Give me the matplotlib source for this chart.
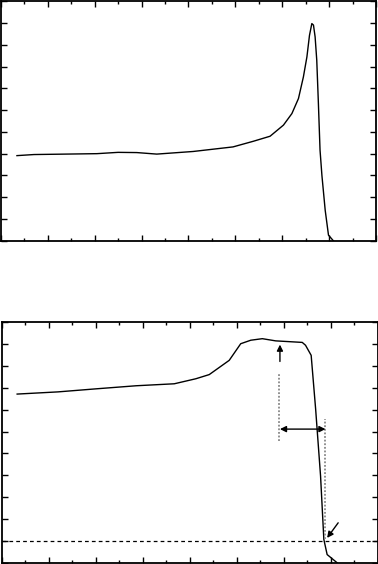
import numpy as np
import matplotlib
matplotlib.use("Agg")
import matplotlib.pyplot as plt
from matplotlib.ticker import MultipleLocator

#  Upper trace
x_top = [0.69, 1.42, 4.1, 5.0, 5.8, 6.65, 8.2, 9.9, 10.77, 11.48, 12.05, 12.41, 12.69,
         12.9, 13.05, 13.16, 13.26, 13.33, 13.4, 13.47, 13.54, 13.61, 13.69, 13.83,
         13.97, 14.18]
y_top = [3.91, 3.96, 4.0, 4.06, 4.05, 3.98, 4.1, 4.31, 4.57, 4.8, 5.31, 5.84, 6.53,
         7.52, 8.44, 9.43, 9.97, 9.9, 9.36, 8.29, 6.3, 4.16, 3.0, 1.4, 0.26, 0.0]

#  Lower trace
x_bot = [0.65, 2.39, 4.02, 5.72, 7.34, 8.26, 8.83, 9.68, 10.17, 10.6, 11.09, 11.66,
         12.79, 12.93, 13.17, 13.36, 13.57, 13.71, 13.85, 14.28]
y_bot = [7.71, 7.81, 7.95, 8.09, 8.18, 8.41, 8.6, 9.25, 10.01, 10.17, 10.24, 10.14,
         10.07, 9.94, 9.48, 7.03, 3.97, 1.07, 0.38, 0.0]

#  Annotation values (lower panel)
threshold = 1.0
x_peak_mark = 11.84
x_cross_mark = 13.78
y_span = 6.11


def style(ax):
    ax.set_xlim(0, 16)
    ax.set_ylim(0, 11)
    ax.xaxis.set_major_locator(MultipleLocator(2))
    ax.xaxis.set_minor_locator(MultipleLocator(1))
    ax.yaxis.set_major_locator(MultipleLocator(1))
    ax.tick_params(which="both", direction="in", top=True, right=True,
                   labelleft=False, labelbottom=False, width=1)
    ax.tick_params(which="major", length=4)
    ax.tick_params(which="minor", length=2.5)
    for s in ax.spines.values():
        s.set_linewidth(1.3)


fig = plt.figure(figsize=(3.78, 5.64), dpi=100)

ax1 = fig.add_axes([0.002, 0.573, 0.993, 0.425])
ax1.plot(x_top, y_top, color="black", lw=1.0)
style(ax1)

ax2 = fig.add_axes([0.005, 0.002, 0.994, 0.427])
ax2.plot(x_bot, y_bot, color="black", lw=1.0)
ax2.axhline(threshold, color="black", lw=0.9, ls=(0, (3, 2.5)))
ax2.plot([11.8, 11.8], [5.58, 8.64], color="#888888", lw=1.3, ls=(0, (1, 1)))
ax2.plot([x_cross_mark, x_cross_mark], [1.07, 6.57], color="#888888", lw=1.3, ls=(0, (1, 1)))
ax2.annotate("", xy=(x_peak_mark, 9.97), xytext=(x_peak_mark, 9.2),
             arrowprops=dict(arrowstyle="-|>", color="black", lw=1, mutation_scale=9,
                             shrinkA=0, shrinkB=0))
ax2.annotate("", xy=(x_peak_mark, y_span), xytext=(x_cross_mark, y_span),
             arrowprops=dict(arrowstyle="<|-|>", color="black", lw=1, mutation_scale=9,
                             shrinkA=0, shrinkB=0))
ax2.annotate("", xy=(13.85, 1.14), xytext=(14.32, 1.83),
             arrowprops=dict(arrowstyle="-|>", color="black", lw=1, mutation_scale=9,
                             shrinkA=0, shrinkB=0))
style(ax2)

fig.savefig("out.png", dpi=100)
